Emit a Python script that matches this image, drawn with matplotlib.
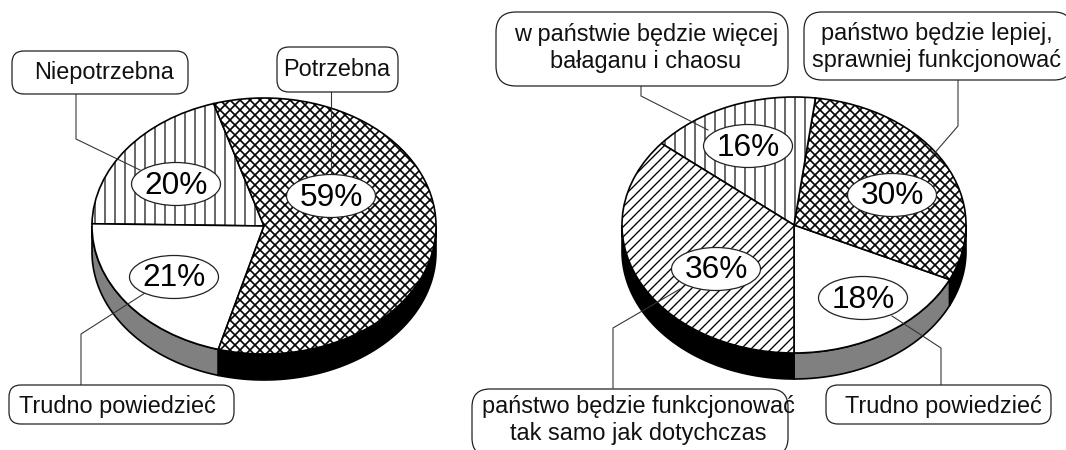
import numpy as np
import matplotlib
matplotlib.use('Agg')
import matplotlib.pyplot as plt
from matplotlib.patches import FancyBboxPatch, Ellipse

plt.rcParams['font.family'] = ['Liberation Sans', 'DejaVu Sans']

W, H, DPI = 1066, 450, 120
TEXT_SIZE = 14.1
PCT_SIZE = 19

# left pie, counter clockwise from the top boundary
left_values = [20, 21, 59]
left_labels = ['Niepotrzebna', 'Trudno powiedzieć', 'Potrzebna']
left_hatch = ['||', '', 'xxxx']
left_side = ['black', 'gray', 'black']

# right pie, counter clockwise from the bottom
right_values = [18, 30, 16, 36]
right_labels = ['Trudno powiedzieć',
                'państwo będzie lepiej,\nsprawniej funkcjonować',
                'w państwie będzie więcej\nbałaganu i chaosu',
                'państwo będzie funkcjonować\ntak samo jak dotychczas']
right_hatch = ['', 'xxxx', '||', '////']
right_side = ['gray', 'black', 'black', 'black']

hatch_width = {'': 1.0, '||': 0.7, '////': 0.8, 'xxxx': 1.0}


def draw_pie(fig, cx, cy, values, hatches, sides, start):
    rx, ry, depth = 172, 128, 26
    ax = fig.add_axes([(cx - rx) / W, 1 - (cy + ry) / H, 2 * rx / W, 2 * ry / H])
    wedges, _ = ax.pie(values, startangle=start, counterclock=True, hatch=hatches,
                       colors=['white'] * len(values), radius=1,
                       wedgeprops={'edgecolor': 'black', 'linewidth': 1.0})
    ax.set_aspect('auto')
    ax.set_xlim(-1, 1)
    ax.set_ylim(-1, 1)
    ax.patch.set_visible(False)
    d = depth / ry

    # rim: only the part of each slice that is on the front half
    for w, side in zip(wedges, sides):
        w.set_clip_on(False)
        w.set_hatch_linewidth(hatch_width[w.get_hatch() or ''])
        w.set_zorder(3)
        t1 = w.theta1 % 360
        t2 = t1 + (w.theta2 - w.theta1)
        for shift in (0, 360):
            lo = max(t1, 180 + shift)
            hi = min(t2, 360 + shift)
            if hi <= lo:
                continue
            t = np.radians(np.linspace(lo, hi, 80))
            xs = np.r_[np.cos(t), np.cos(t)[::-1]]
            ys = np.r_[np.sin(t), np.sin(t)[::-1] - d]
            ax.fill(xs, ys, facecolor=side, edgecolor='black', linewidth=1.0,
                    clip_on=False, zorder=2)
    return ax


def draw_box(ax, x0, y0, x1, y1, r):
    ax.add_patch(FancyBboxPatch((x0, y0), x1 - x0, y1 - y0,
                                boxstyle='round,pad=0,rounding_size=%d' % r,
                                facecolor='white', edgecolor='#222222', linewidth=0.75, zorder=6))


def draw_leader(ax, xs, ys):
    ax.plot(xs, ys, color='#333333', linewidth=0.65, zorder=5, solid_joinstyle='miter')


def draw_pct(ax, x, y, value):
    ax.add_patch(Ellipse((x, y), 89, 43, facecolor='white', edgecolor='#222222',
                         linewidth=0.75, zorder=6))
    ax.text(x, y + 1.5, '%d%%' % value, fontsize=PCT_SIZE, ha='center', va='center', color='black', zorder=7)


def draw_label(ax, x, y, s):
    ax.text(x, y, s, fontsize=TEXT_SIZE, ha='center', va='center', color='#111111',
            linespacing=1.22, zorder=7)


fig = plt.figure(figsize=(W / DPI, H / DPI), dpi=DPI)

draw_pie(fig, 264, 226, left_values, left_hatch, left_side, 107)
draw_pie(fig, 794, 225, right_values, right_hatch, right_side, 270)

top = fig.add_axes([0, 0, 1, 1])
top.set_xlim(0, W)
top.set_ylim(H, 0)
top.axis('off')

# left callouts
draw_leader(top, [76, 76, 140], [94, 139, 170])
draw_leader(top, [331, 331], [92, 180])
draw_leader(top, [81, 81, 145], [385, 334, 293])
draw_box(top, 12, 51, 188, 94, 12)
draw_box(top, 277, 47, 398, 92, 12)
draw_box(top, 9, 385, 234, 424, 12)
draw_label(top, 104, 72, left_labels[0])
draw_label(top, 117, 407, left_labels[1])
draw_label(top, 337, 69, left_labels[2])
draw_pct(top, 176, 184, left_values[0])
draw_pct(top, 174, 277, left_values[1])
draw_pct(top, 331, 196, left_values[2])

# right callouts
draw_leader(top, [941, 941, 892], [385, 348, 316])
draw_leader(top, [958, 958, 920], [80, 126, 170])
draw_leader(top, [641, 641, 708], [86, 96, 130])
draw_leader(top, [613, 613, 680], [388, 328, 289])
draw_box(top, 826, 385, 1051, 424, 12)
draw_box(top, 804, 12, 1072, 80, 18)
draw_box(top, 496, 12, 788, 86, 20)
draw_box(top, 472, 389, 788, 456, 18)
draw_label(top, 943, 407, right_labels[0])
draw_label(top, 937, 47, right_labels[1])
draw_label(top, 646, 48, right_labels[2])
draw_label(top, 638, 420, right_labels[3])
draw_pct(top, 863, 298, right_values[0])
draw_pct(top, 892, 195, right_values[1])
draw_pct(top, 748, 146, right_values[2])
draw_pct(top, 716, 269, right_values[3])

fig.savefig('out.png', dpi=DPI)
